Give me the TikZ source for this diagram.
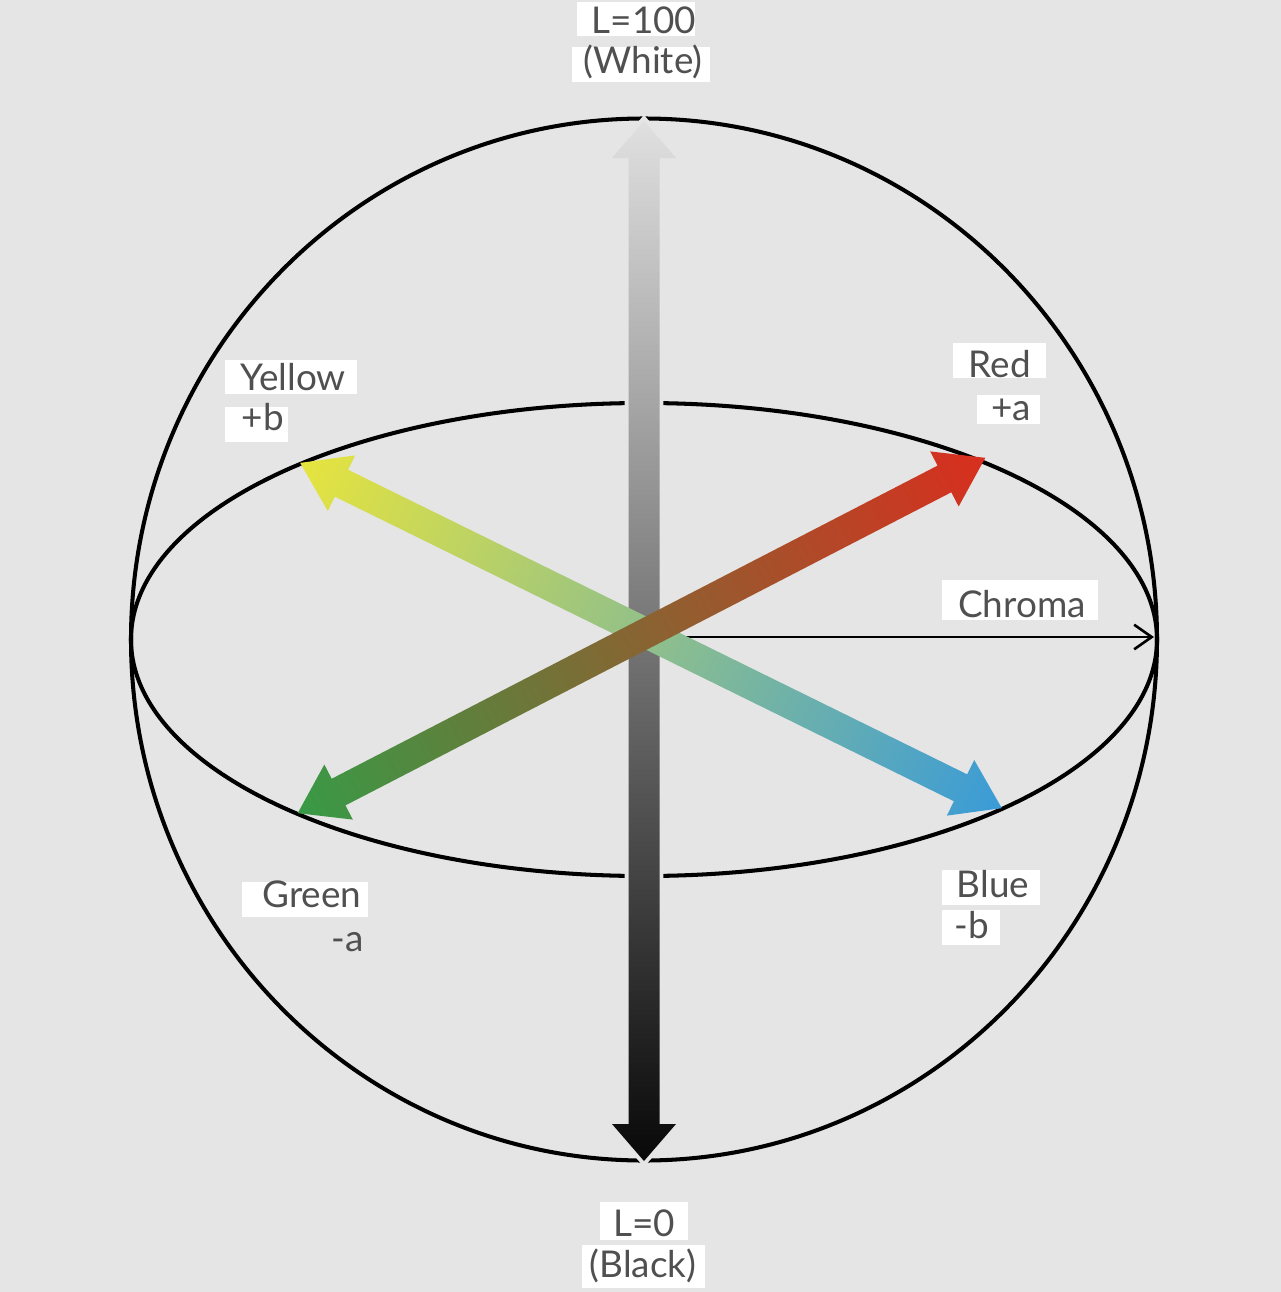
\documentclass[tikz,border=0pt]{standalone}
\usepackage{fontspec}
\setmainfont{Lato}
\usetikzlibrary{arrows.meta}
\definecolor{bg}{HTML}{E5E5E5}
\definecolor{labelgray}{HTML}{505050}
\definecolor{cred}{HTML}{D92E1E}
\definecolor{cgreen}{HTML}{389A46}
\definecolor{cbrown}{HTML}{A2652E}
\definecolor{cyellow}{HTML}{E6E43E}
\definecolor{cblue}{HTML}{3A9BD8}
\definecolor{cmint}{HTML}{B2DAA2}
\definecolor{bartop}{HTML}{E0E0E0}
\definecolor{barmid}{HTML}{A8A8A8}
\definecolor{barbot}{HTML}{080808}
\begin{document}
\begin{tikzpicture}[x=0.02cm,y=-0.02cm,
  outline/.style={line width=2.3pt, black},
  labelbox/.style={fill=white},
  labeltext/.style={text=labelgray, font=\fontsize{21}{25}\selectfont, inner sep=0pt, anchor=base},
  chromaarrow/.style={line width=1.5pt, black, -{Straight Barb[length=10pt,width=14pt]}}]
% background and bounds
\fill[bg] (0,0) rectangle (1281,1292);
\useasboundingbox (0,0) rectangle (1281,1292);
% named points
\coordinate (center) at (644,637);
\coordinate (chromaend) at (1154,637);
% sphere and equator
\draw[outline] (644,639.5) ellipse [x radius=513, y radius=521];
\draw[outline] (644,639.5) ellipse [x radius=513, y radius=236.5];
% chroma arrow
\draw[chromaarrow] (center) -- (chromaend);
% lightness axis with a background-coloured margin
\path[draw=bg, line width=4.5pt, line join=miter]
  (644,121) -- (676,158) -- (659.5,158) -- (659.5,1124) -- (676,1124) -- (644,1161)
  -- (612,1124) -- (628.5,1124) -- (628.5,158) -- (612,158) -- cycle;
\shade[top color=bartop, middle color=barmid, bottom color=barbot]
  (644,121) -- (676,158) -- (659.5,158) -- (659.5,1124) -- (676,1124) -- (644,1161)
  -- (612,1124) -- (628.5,1124) -- (628.5,158) -- (612,158) -- cycle;
% yellow - blue axis
\begin{scope}[transform canvas={shift={(651,635.5)}, rotate=-26.2}]
\shade[left color=cyellow, middle color=cmint, right color=cblue]
  (391,0) -- (345,31) -- (345,15) -- (-345,15) -- (-345,31) -- (-391,0)
  -- (-345,-31) -- (-345,-15) -- (345,-15) -- (345,-31) -- cycle;
\end{scope}
% green - red axis
\begin{scope}[transform canvas={shift={(641.5,635.5)}, rotate=27.33}]
\shade[left color=cgreen, middle color=cbrown, right color=cred]
  (387,0) -- (341,31) -- (341,15) -- (-341,15) -- (-341,31) -- (-387,0)
  -- (-341,-31) -- (-341,-15) -- (341,-15) -- (341,-31) -- cycle;
\end{scope}
% label boxes
\path[labelbox] (577,2) rectangle (695,36);
\path[labelbox] (572,47) rectangle (710,82);
\path[labelbox] (225,360) rectangle (357,394);
\path[labelbox] (225,407) rectangle (288,442);
\path[labelbox] (953,343) rectangle (1046,378);
\path[labelbox] (977,395) rectangle (1040,424);
\path[labelbox] (942,580) rectangle (1098,620);
\path[labelbox] (242,882) rectangle (368,917);
\path[labelbox] (942,870) rectangle (1040,905);
\path[labelbox] (942,910) rectangle (1000,945);
\path[labelbox] (600,1202) rectangle (688,1240);
\path[labelbox] (582,1245) rectangle (705,1288);
% label texts
\node[labeltext] (lwhite) at (644,33) {L=100};
\node[labeltext] (white) at (643,73) {(White)};
\node[labeltext] (yellow) at (293,390) {Yellow};
\node[labeltext] (plusb) at (263,430) {+b};
\node[labeltext] (red) at (1000,377) {Red};
\node[labeltext] (plusa) at (1011,420) {+a};
\node[labeltext] (chroma) at (1022,617) {Chroma};
\node[labeltext] (green) at (312,907) {Green};
\node[labeltext] (minusa) at (348,951) {-a};
\node[labeltext] (blue) at (993,897) {Blue};
\node[labeltext] (minusb) at (972,938) {-b};
\node[labeltext] (lblack) at (644,1236) {L=0};
\node[labeltext] (black) at (643,1277) {(Black)};
\end{tikzpicture}
\end{document}
